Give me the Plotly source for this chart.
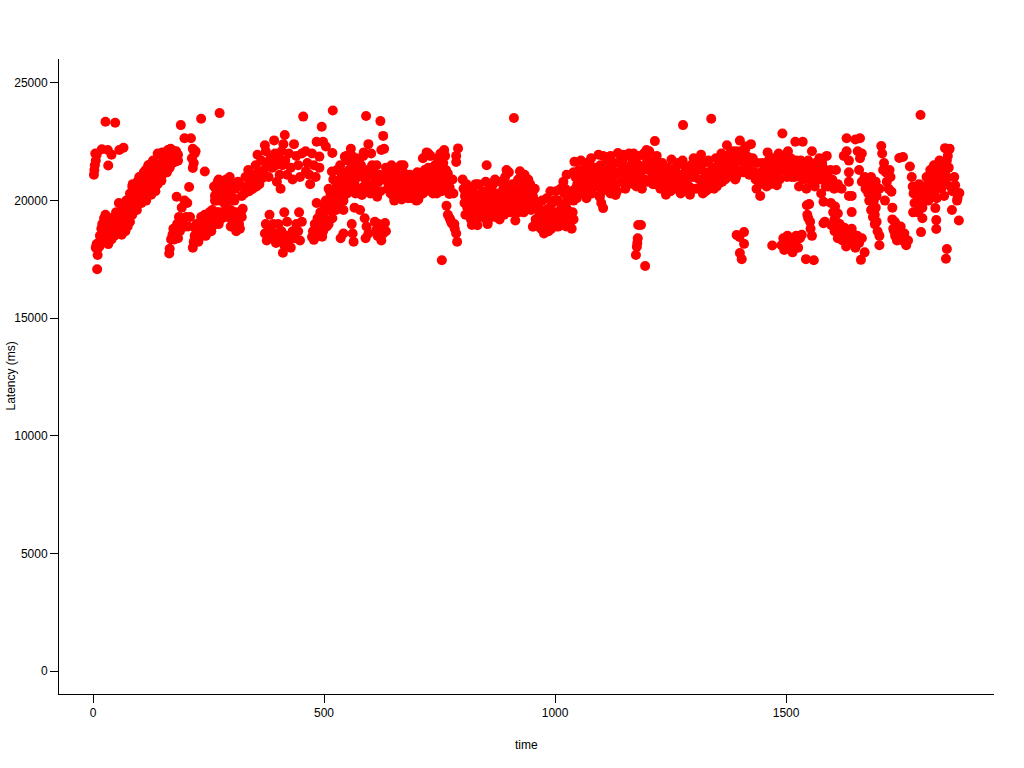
import plotly.graph_objects as go

start_top = [(2,21100),(3,21300),(5,22000),(6,21700),(8,21950),(4,21500),(19,22180),(32,22150),(27,23350),(48,23310),(40,21950),(33,21490),(57,22150),(66,22250),(9,17080),(10,17690),(8,18110)]
rise_a = [(6,18000),(8,18150),(10,17950),(12,18200),(14,18050),(15,18500),(17,18350),(18,18800),(20,18300),(20,19000),(22,18600),(24,19250),(25,18900),(27,19400),(28,18400),(30,18700),(32,19100),(33,18150),(35,18450),(36,18800),(38,19000),(40,18350),(42,18700),(45,19300),(46,18500),(48,18900),(50,19500),(52,18650),(54,19050),(56,19900),(58,18850),(60,19300),(62,18550),(64,19700),(66,18950),(68,19400),(70,19050),(72,20000),(74,19300),(76,19700),(78,19300),(80,20300),(82,19900),(84,19600),(86,20700),(88,20200),(90,19950),(92,20600),(94,20100),(96,20800),(98,20300),(100,20000),(102,20900),(104,20450),(106,20150),(108,21000),(110,20600),(112,20250),(114,21300),(116,20800),(118,20350),(120,21500),(122,21000),(124,20600),(126,20250),(128,21600),(130,21200),(132,20800),(134,20450),(136,21400),(138,21000),(140,20700),(142,21950),(144,21500),(146,21100),(148,20850),(150,22050),(152,21700),(154,21300),(156,21950),(158,21500),(160,21200),(162,22150),(164,21800),(166,21400),(168,22200),(170,21900),(172,21600),(176,22100),(180,22100),(184,21950),(178,21650),(184,21700)]
fill_a = [(75,18900),(85,19400),(95,19600),(105,19900),(115,20000),(125,20500),(135,20400),(85,20600),(100,21000),(110,21200),(120,21500),(130,21700),(140,22000),(150,21100),(70,18700),(80,19100)]
rise_b = [(165,17750),(166,17950),(169,18350),(172,18550),(174,18800),(176,18350),(178,18600),(181,20160),(182,19000),(184,18400),(186,19300),(188,18700),(190,19000),(192,19700),(194,18900),(196,19250),(198,20000),(200,18900),(202,19300),(204,19900),(208,20580),(206,18900),(210,19300),(216,18000),(218,18250),(220,18500),(222,18800),(224,19000),(226,18450),(228,18250),(230,18700),(232,18950),(234,19300),(236,18500),(238,18800),(240,19100),(242,19400),(244,18500),(246,18900),(248,19200),(250,18700),(252,19500),(254,19000),(256,18700),(258,19600),(260,19300),(262,19000),(264,20200),(266,20500),(268,20000),(270,20800),(272,19500),(274,20300),(276,19200),(278,20700),(280,20100),(282,20400),(284,19900),(286,20600),(288,20900),(290,19700),(292,20200),(294,20500),(296,21000),(298,19600),(300,20100),(300,19200),(304,19400),(306,18900),(308,19100),(310,18700),(312,19300),(316,19000),(318,18800),(320,19500),(322,19300),(324,19650)]
fill_b = [(262,20600),(268,20300),(272,20900),(276,20000),(280,20600),(286,20300),(290,20800),(296,20300),(300,20700),(304,20100),(308,20500),(314,20800),(264,20000),(290,20000),(306,20000),(225,18700),(232,18500),(240,18800),(246,18600),(252,19000),(258,18900),(264,19200),(268,19500),(272,19000),(280,19500),(286,19300),(292,19600),(298,18900),(304,19500),(310,19500),(316,19300)]
upper_b = [(216,21390),(242,21240),(198,22650),(212,22650),(190,23210),(234,23480),(274,23720),(216,22200),(214,21800),(220,22000),(222,22100),(218,21600)]
rise_c = [(322,20200),(324,20600),(328,20300),(330,21000),(332,20500),(336,21300),(338,20400),(340,20800),(344,21100),(346,20500),(350,20900),(352,21500),(354,20600),(356,21950),(358,21200),(360,20700),(364,21700),(366,20950),(370,21300),(372,22350),(374,22100),(376,21600),(380,21000),(384,21800),(388,21400),(392,22560),(394,22000),(396,21500),(398,20800),(402,21800),(404,21100),(406,20500),(408,22100),(410,21500),(412,22400),(415,22790),(416,21700),(420,21100),(424,22000),(428,21400),(432,20900),(435,22400),(440,21900),(444,21500),(448,21000),(452,22000),(455,23570),(460,22100),(461,21250),(464,21600),(468,21100),(470,20700),(474,22000),(478,21500),(482,21000),(484,22500),(490,21870),(490,21400),(498,22500),(504,22300),(518,22020),(495,23140),(519,23830)]
low_c = [(372,18600),(374,19000),(376,18300),(380,18700),(382,19400),(384,18900),(386,18400),(390,19000),(394,18600),(396,18200),(401,19000),(404,18400),(408,18700),(411,17780),(414,18100),(418,18500),(420,19100),(424,18350),(428,18000),(432,18700),(436,18400),(440,19000),(444,18700),(446,19500),(448,18300),(452,19100),(414,19500),(436,18700)]
rise_d = [(474,18450),(476,18700),(478,18330),(480,19000),(482,18700),(484,19900),(486,19250),(488,18500),(492,19500),(494,18900),(496,18460),(500,19250),(504,20000),(508,19600),(510,19000),(514,20300),(516,19800),(518,19250),(517,21240),(522,20500),(524,20100),(526,19600),(530,20800),(532,20300),(530,19900),(538,21000),(540,20500),(542,20000),(546,21150),(545,21860),(548,20800),(550,20300),(554,21300),(556,21000),(558,20600),(562,21500),(564,21100),(566,20700),(570,21800),(572,21400),(574,21000),(576,20500),(558,22200),(548,21900),(582,21200),(582,20240),(586,20600),(590,20900),(594,21300),(598,21100),(602,22000),(606,20500),(610,20700),(614,21500),(615,20160),(620,21100),(618,20800),(622,20400)]
fill_d = [(500,19800),(510,20500),(520,20900),(528,21300),(535,21500),(540,21200),(552,21700),(560,21900),(568,20300),(575,21700),(580,21500),(585,21900),(590,20400),(595,20700),(600,20300),(606,21200),(612,20900),(490,19200),(498,18700),(506,18900),(512,19600)]
upper_d = [(591,23600),(622,23380),(628,22750),(596,22400),(586,22050),(624,22150),(630,22200),(604,21500)]
low_d = [(536,18400),(542,18600),(560,19000),(562,18600),(564,18250),(588,19250),(592,18900),(590,18400),(610,19100),(613,18750),(616,18500),(618,19000),(622,18800),(624,18300),(628,18600),(542,19600),(578,19600),(596,18600),(566,19700),(634,18700),(632,19050)]
blob_e = [(630,20900),(634,21400),(638,20500),(642,21100),(646,21500),(650,20700),(654,20300),(656,21200),(660,20900),(664,20400),(666,21500),(670,20700),(674,21150),(676,20250),(680,20800),(684,20400),(686,21100),(690,20100),(692,20700),(696,21000),(698,20300),(700,20600),(702,21200),(704,20050),(706,20700),(710,20350),(712,21000),(714,21800),(716,20500),(718,21300),(720,20800),(722,22050),(724,20600),(726,21400),(728,21000),(730,21900),(732,20500),(734,21200),(736,20700),(740,21500),(742,20350),(744,21000),(746,21800),(748,20600),(750,21300),(752,22000),(754,20400),(756,20900),(758,21600),(760,22150),(762,20700),(764,21300),(766,20950),(762,21900),(768,21150),(772,20550),(778,20900),(780,20300),(652,20000),(668,20050),(700,20000),(726,22000),(738,20350),(706,21000),(690,20500),(672,21500),(654,21000),(744,20300)]
fill_e = [(636,21000),(640,20700),(644,20300),(648,20900),(652,21300),(658,20400),(662,20100),(664,20900),(668,20500),(672,20300),(678,20500),(682,20100),(684,20800),(688,20300),(694,20400),(698,20800),(702,20300),(706,20200),(710,20700),(714,20300),(716,21000),(720,20400),(724,21000),(728,20600),(732,20900),(736,20300),(740,20900),(744,20700),(748,21000),(752,20800),(756,21300),(760,21100),(638,21200),(644,21000),(650,20200)]
column_e = [(755,17460),(790,22220),(786,21900),(786,21640),(771,20280),(765,19780),(768,19400),(772,19250),(776,19050),(780,18950),(783,18800),(786,18600),(788,18250),(782,19000),(774,19150)]
block_f = [(800,20900),(802,20500),(804,19900),(806,19400),(808,20700),(812,20250),(814,19600),(818,19200),(822,20450),(824,19800),(826,19400),(830,20000),(832,18950),(834,20700),(836,19300),(838,20100),(840,19700),(844,20400),(848,19250),(850,20800),(852,21500),(854,19000),(856,20000),(858,19700),(862,20500),(864,19350),(868,20100),(870,20900),(872,19600),(876,20300),(880,19200),(882,20800),(884,19900),(888,20500),(890,19400),(892,21000),(894,20100),(896,19700),(898,20650),(900,21200),(902,20300),(904,19500),(908,20700),(910,20000),(911,23510),(914,19150),(916,20450),(920,20900),(922,19800),(924,21250),(926,20200),(930,20600),(932,19500),(934,21100),(936,20000),(938,20500),(940,19700),(942,20900),(944,20200),(946,20700),(948,19600),(952,20200),(956,20000),(958,19200)]
fill_f = [(805,20200),(810,19700),(816,20000),(820,19800),(824,20300),(828,20700),(832,19600),(836,19900),(840,20300),(844,19600),(846,20000),(850,19600),(854,20300),(858,20700),(860,19300),(864,20000),(866,20700),(870,19300),(874,20000),(878,19700),(882,20200),(886,19500),(890,20200),(892,19800),(896,20300),(900,19800),(906,20200),(912,19700),(918,20100),(920,19500),(924,20500),(928,19800),(932,20200),(936,20700),(940,20300),(944,19800),(948,20300),(952,19800),(956,20500),(820,18960),(854,19090),(895,21300),(935,20950),(952,18890)]
block_g = [(958,19000),(962,18900),(964,19700),(966,19400),(970,18800),(972,20000),(974,19200),(976,18600),(980,19600),(982,20100),(984,19000),(986,18700),(990,20400),(992,19400),(994,19900),(996,19100),(1000,19500),(1002,20400),(1004,18900),(1006,20000),(1010,19300),(1012,20500),(1014,19800),(1016,19000),(1020,20300),(1022,19400),(1024,18900),(1026,20000),(1030,19550),(1032,19000),(1036,18800),(1040,20000),(1038,19500),(1025,21100),(1018,20800),(1022,20500)]
fill_g = [(968,19300),(978,19100),(982,19400),(988,19700),(992,18800),(998,20000),(1002,19200),(1008,18900),(1012,19600),(1018,19300),(1024,19700),(1028,19200),(1034,20200),(1036,20400),(1040,19200)]
band_h = [(1040,21200),(1042,21650),(1044,20500),(1050,21000),(1054,20300),(1056,21700),(1060,20700),(1064,21300),(1068,20100),(1072,20800),(1076,21500),(1080,20300),(1084,21000),(1088,20600),(1092,21300),(1096,20200),(1100,21000),(1104,21900),(1108,20650),(1112,21300),(1116,20900),(1120,20300),(1124,21000),(1128,21600),(1132,20700),(1136,21200),(1140,21950),(1144,20800),(1148,21400),(1152,20500),(1156,21000),(1160,22000),(1164,21500),(1168,20900),(1172,21300),(1176,20600),(1180,21900),(1184,21100),(1188,20500),(1192,22000),(1196,21500),(1200,20800),(1204,22100),(1208,21300),(1212,20700),(1216,22530),(1220,21900),(1224,21100),(1228,20500),(1232,21600),(1236,20900),(1240,20250),(1244,21400),(1248,20700),(1252,21750),(1256,21000),(1260,20500),(1264,21500),(1268,20900),(1272,20300),(1276,21700),(1280,21100),(1284,20700),(1288,21400),(1292,20250),(1296,21000),(1300,21800),(1304,20500),(1308,21300),(1312,20900),(1316,21950),(1320,20300),(1324,21200),(1328,20700),(1332,21700),(1336,20950),(1340,21400),(1344,20500),(1348,21800),(1352,21100),(1356,20750),(1360,22000),(1364,21400),(1368,20900),(1372,22350),(1376,21700),(1380,21200),(1384,22100),(1388,21500),(1392,21000),(1396,22000),(1400,22550),(1404,21700),(1408,21200),(1412,22200),(1416,21600),(1420,21100),(1424,22400),(1428,21800),(1432,21200),(1436,20500),(1440,21000),(1444,20200),(1448,21600),(1452,20700),(1456,21100),(1460,22050),(1464,21400),(1468,20900),(1472,21800),(1476,21100),(1480,20650),(1484,22000),(1488,21500),(1492,22850),(1496,21800),(1500,21250),(1504,22100),(1508,21600),(1512,21000),(1516,21700),(1520,22500),(1524,21200),(1528,20600),(1532,21700),(1536,22500),(1540,21100),(1544,20500),(1548,21700),(1552,21300),(1556,22100),(1560,20900),(1564,21600),(1568,21100),(1572,21800),(1576,20300),(1580,21400),(1584,20900),(1588,21900),(1592,20600),(1596,21300),(1600,20900),(1604,20500),(1608,21300),(1612,20700),(1620,20500),(1300,21200),(1360,21100),(1260,21300),(1180,20800),(1120,21000),(1060,21000),(1404,21300),(1380,21700),(1350,21400),(1390,20900)]
fill_h = [(1044,21000),(1048,20700),(1052,21300),(1058,20400),(1062,20900),(1066,21600),(1070,21200),(1074,20500),(1078,21000),(1082,20700),(1086,21400),(1090,20900),(1094,20600),(1098,21500),(1102,20400),(1106,21100),(1110,20900),(1114,21700),(1118,20600),(1122,21400),(1126,20700),(1130,21100),(1134,20400),(1138,21600),(1142,21200),(1146,21700),(1150,20900),(1154,21300),(1158,20700),(1162,21100),(1166,21800),(1170,20700),(1174,21700),(1178,21100),(1182,21500),(1186,20800),(1190,21300),(1194,20900),(1198,21800),(1202,21300),(1206,20900),(1210,21700),(1214,21200),(1218,20700),(1222,21500),(1226,20900),(1230,21200),(1234,20500),(1238,21300),(1242,20700),(1246,21100),(1250,20400),(1254,21300),(1258,20800),(1262,21100),(1266,21600),(1270,20600),(1274,21100),(1278,20500),(1282,21400),(1286,21000),(1290,20600),(1294,21500),(1298,20500),(1302,21000),(1306,21700),(1310,20500),(1314,21400),(1318,20800),(1322,21600),(1326,20400),(1330,21100),(1334,20500),(1338,21200),(1342,20900),(1346,21100),(1350,20600),(1354,21700),(1358,21300),(1362,20800),(1366,21700),(1370,21300),(1374,21000),(1378,22000),(1382,21400),(1386,21800),(1390,21300),(1394,21700),(1398,21200),(1402,22100),(1406,21900),(1410,21400),(1414,21900),(1418,21300),(1422,21800),(1426,21200),(1430,21600),(1434,20900),(1438,21600),(1442,20800),(1446,21200),(1450,21000),(1454,21500),(1458,20600),(1462,21700),(1466,20700),(1470,21300),(1474,20800),(1478,21600),(1482,21200),(1486,20900),(1490,21900),(1494,21300),(1498,21600),(1502,21000),(1506,21400),(1510,21800),(1514,21300),(1518,21000),(1522,21700),(1526,21400),(1530,21000),(1534,21300),(1538,20900),(1542,21400),(1546,21000),(1550,21500),(1554,20800),(1558,21300),(1562,20600),(1566,20900),(1570,21300),(1574,20900),(1578,21600),(1582,21200),(1586,20600),(1590,21200)]
edge_h = [(1047,20100),(1068,20200),(1104,19680),(1097,20150),(1100,19900),(1131,20240),(1094,21950),(1136,22020),(1148,21950),(1170,22000),(1198,22150),(1120,21900),(1078,21800)]
upper_h = [(1277,23210),(1338,23480),(1412,22300),(1392,22100)]
low_i = [(1180,18960),(1186,18960),(1179,18400),(1178,18200),(1177,18040),(1175,17690),(1195,17220),(1393,18540),(1399,18450),(1409,18660),(1409,18160),(1400,17770),(1404,17510),(1470,18090),(1490,18100),(1494,18400),(1496,17900),(1500,18200),(1503,18500),(1506,17950),(1510,18250),(1514,17800),(1518,18100),(1522,18500),(1526,18000),(1530,18400),(1534,18550),(1543,17510),(1560,17460),(1500,18050)]
column_i = [(1545,19800),(1550,19850),(1546,19400),(1552,19100),(1553,18800),(1556,18500),(1548,19250),(1581,19950),(1581,19040),(1584,19100)]
slant_j = [(1597,19900),(1602,19500),(1606,19750),(1608,19100),(1612,19450),(1598,18950),(1605,18700),(1612,18400),(1618,18700),(1622,18300),(1626,18850),(1630,18050),(1636,18500),(1640,18200),(1644,18600),(1650,18000),(1654,18500),(1658,18200),(1662,17480),(1670,17800),(1664,18400),(1605,19200),(1610,18900),(1616,19000),(1620,18500),(1628,18500),(1634,18250),(1642,18800),(1646,18300)]
column_j = [(1631,22650),(1650,22600),(1660,22650),(1625,21900),(1631,22100),(1636,21700),(1636,21200),(1636,20800),(1636,20200),(1642,20200),(1642,19510),(1655,22100),(1660,21800),(1664,22000),(1658,21300),(1664,20800),(1670,20850)]
band_k = [(1670,21000),(1672,20500),(1675,20800),(1678,20300),(1680,20000),(1684,19600),(1686,20600),(1690,20000),(1692,19400),(1696,19100),(1698,18700),(1694,20800),(1702,20500),(1702,18500),(1702,18100),(1706,22320),(1708,22000),(1712,21600),(1716,21200),(1718,20800),(1722,20500),(1726,21000),(1728,20380),(1730,19700),(1714,20000),(1710,21300),(1724,21300),(1680,20700),(1684,20300),(1688,19900),(1690,20400),(1694,19700),(1696,20200),(1684,21000),(1692,19000),(1688,19300)]
cluster_k = [(1730,19200),(1732,18800),(1736,18500),(1738,19000),(1740,18300),(1744,18700),(1746,18450),(1748,18900),(1752,18300),(1756,18600),(1760,18100),(1764,18300),(1745,21810),(1753,21850),(1735,19100),(1742,18900),(1750,18600),(1758,18350),(1734,18700)]
blob_l = [(1768,21450),(1772,21000),(1774,20600),(1776,20300),(1778,19900),(1782,20500),(1786,20100),(1790,19700),(1790,20500),(1794,20000),(1798,20600),(1802,20200),(1804,21000),(1806,20400),(1808,20000),(1812,21300),(1814,20700),(1816,20300),(1820,21500),(1822,20700),(1824,21000),(1826,20100),(1830,21200),(1832,21700),(1836,20500),(1838,21000),(1840,21600),(1844,22230),(1850,21900),(1854,22200),(1846,20900),(1842,20200),(1852,21400),(1856,20600)]
fill_l = [(1778,20400),(1784,20200),(1788,20700),(1792,20300),(1796,20100),(1800,20500),(1804,20100),(1808,20700),(1812,20200),(1816,21000),(1820,20300),(1824,20600),(1828,21500),(1832,20900),(1836,21300),(1840,20800),(1844,21200),(1848,21700),(1848,21000)]
low_l = [(1792,18660),(1795,19250),(1795,19700),(1775,19500),(1823,19680),(1825,19170),(1825,18790),(1848,17940),(1846,17530),(1874,19150),(1864,21000),(1875,20320),(1859,19600),(1870,20000),(1860,20400),(1866,20650),(1871,20100),(1791,23640),(1786,19500)]
segments = [start_top, rise_a, fill_a, rise_b, fill_b, upper_b, rise_c, low_c, rise_d, fill_d, upper_d, low_d, blob_e, fill_e, column_e, block_f, fill_f, block_g, fill_g, band_h, fill_h, edge_h, upper_h, low_i, column_i, slant_j, column_j, band_k, cluster_k, blob_l, fill_l, low_l]

time = [p[0] for s in segments for p in s]
latency = [p[1] for s in segments for p in s]

x_ticks = [0, 500, 1000, 1500]
y_ticks = [0, 5000, 10000, 15000, 20000, 25000]

fig = go.Figure(go.Scatter(x=time, y=latency, mode="markers",
    marker=dict(color="#ff0000", size=10, line=dict(width=0))))
axis_font = dict(family="Liberation Sans, Arial, sans-serif", size=12, color="black")
fig.update_layout(
    width=1024, height=768, showlegend=False,
    paper_bgcolor="white", plot_bgcolor="white",
    margin=dict(l=59, r=30, t=59, b=74, autoexpand=False),
    font=axis_font,
    annotations=[
        dict(text="time", xref="paper", yref="paper", x=0.5, y=-51/635, yanchor="middle", showarrow=False, font=axis_font),
        dict(text="Latency (ms)", xref="paper", yref="paper", x=-49/935, y=0.5, xanchor="center", textangle=-90, showarrow=False, font=axis_font),
    ],
)
fig.update_xaxes(range=[-73.6, 1950], tickvals=x_ticks, ticktext=[str(v) for v in x_ticks],
    showgrid=False, zeroline=False, showline=True, linecolor="black", linewidth=1,
    ticks="outside", ticklen=8, tickcolor="black", tickwidth=1, tickfont=axis_font, automargin=False)
fig.update_yaxes(range=[-978, 26020], tickvals=y_ticks, ticktext=[str(v) for v in y_ticks],
    showgrid=False, zeroline=False, showline=True, linecolor="black", linewidth=1,
    ticks="outside", ticklen=8, tickcolor="black", tickwidth=1, tickfont=axis_font, automargin=False)
fig.write_html("out.html", config=dict(displayModeBar=False), post_script="document.body.style.margin='0';")
